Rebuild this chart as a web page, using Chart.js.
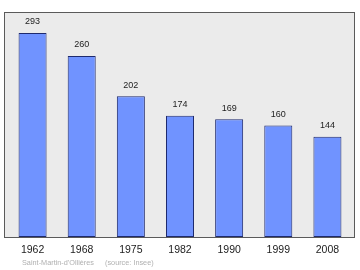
<!DOCTYPE html>
<html lang="fr">
<head>
    <meta charset="UTF-8">
    <title>Population</title>
    <script src="https://cdn.jsdelivr.net/npm/chart.js"></script>
    <style>
        * {
            margin: 0;
            padding: 0;
            box-sizing: border-box;
        }

        body {
            background: #ffffff;
            width: 360px;
            height: 270px;
            overflow: hidden;
        }

        canvas {
            display: block;
        }
    </style>
</head>
<body>
    <canvas id="popChart" width="360" height="270"></canvas>

    <script>
        const years = ['1962', '1968', '1975', '1982', '1990', '1999', '2008'];
        const population = [293, 260, 202, 174, 169, 160, 144];
        const footerName = "Saint-Martin-d'Ollières";
        const footerSource = '(source: Insee)';

        const fontFamily = '"Liberation Sans", Arial, sans-serif';

        // grey frame behind the bars, slightly larger than the chart area
        const framePlugin = {
            id: 'frame',
            beforeDatasetsDraw(chart) {
                const { ctx, chartArea } = chart;
                const left = chartArea.left - 4, right = chartArea.right + 3;
                ctx.save();
                ctx.fillStyle = '#ebebeb';
                ctx.fillRect(left, chartArea.top, right - left, chartArea.bottom - chartArea.top);
                ctx.strokeStyle = '#5a5a5a';
                ctx.lineWidth = 1;
                ctx.strokeRect(left + 0.5, chartArea.top + 0.5, right - left - 1, chartArea.bottom - chartArea.top);
                ctx.restore();
            }
        };

        // value labels, year labels and footer
        const labelsPlugin = {
            id: 'labels',
            afterDatasetsDraw(chart) {
                const { ctx, chartArea } = chart;
                const x = chart.scales.x;
                const y = chart.scales.y;
                ctx.save();
                ctx.textAlign = 'center';
                ctx.textBaseline = 'middle';
                ctx.fillStyle = '#222';
                ctx.font = '9px ' + fontFamily;
                population.forEach((v, i) => {
                    ctx.fillText(String(v), x.getPixelForValue(i), y.getPixelForValue(v) - 11);
                });
                ctx.font = '10.5px ' + fontFamily;
                years.forEach((yr, i) => {
                    ctx.fillText(yr, x.getPixelForValue(i), chartArea.bottom + 13);
                });
                ctx.textAlign = 'left';
                ctx.fillStyle = '#b0b0b0';
                ctx.font = '7.3px ' + fontFamily;
                ctx.fillText(footerName, 22, chartArea.bottom + 26);
                ctx.fillText(footerSource, 105, chartArea.bottom + 26);
                ctx.restore();
            }
        };

        new Chart(document.getElementById('popChart'), {
            type: 'bar',
            data: {
                labels: years,
                datasets: [{
                    data: population,
                    backgroundColor: '#7093ff',
                    borderColor: '#1e2a6e',
                    borderWidth: 1,
                    borderSkipped: false,
                    categoryPercentage: 1,
                    barPercentage: 0.57
                }]
            },
            options: {
                responsive: false,
                animation: false,
                devicePixelRatio: 1,
                layout: { padding: { left: 8, right: 8, top: 12, bottom: 33 } },
                plugins: {
                    legend: { display: false },
                    tooltip: { enabled: false }
                },
                scales: {
                    x: { display: false },
                    y: { display: false, min: 0, max: 323 }
                }
            },
            plugins: [framePlugin, labelsPlugin]
        });
    </script>
</body>
</html>
